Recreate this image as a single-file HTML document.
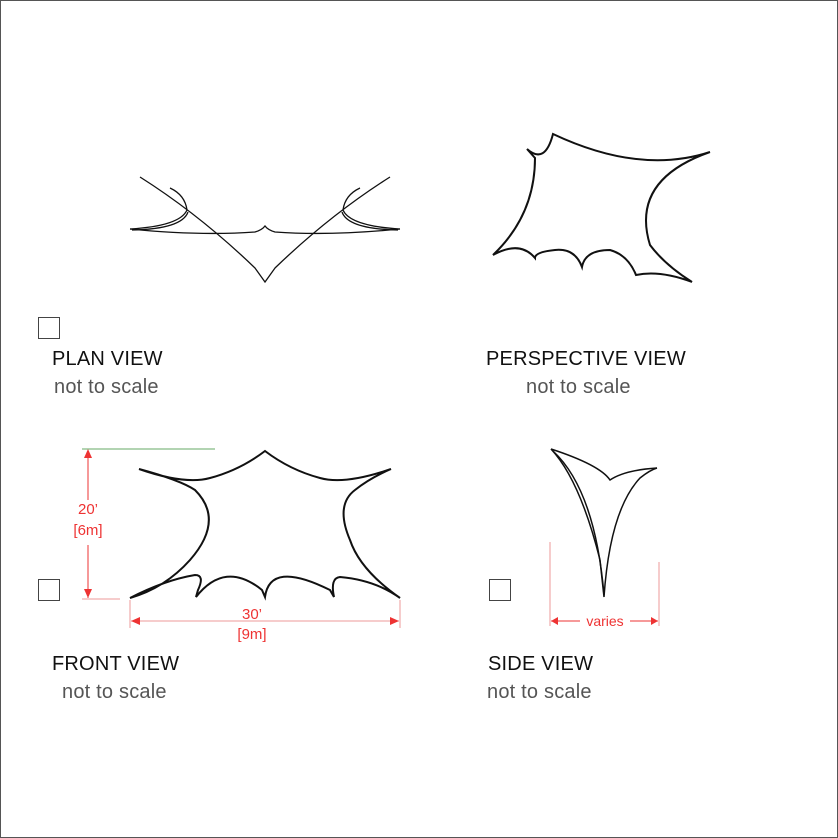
<!DOCTYPE html>
<html><head><style>
body{margin:0;background:#fff}
.f{position:absolute;left:0;top:0;width:836px;height:836px;border:1px solid #555;}
.t{position:absolute;font-family:"Liberation Sans",sans-serif;font-size:20px;color:#111;letter-spacing:0.2px}
.g{color:#555}
.b{position:absolute;width:20px;height:20px;border:1px solid #444}
</style></head><body>
<div class="f"></div>
<svg width="838" height="838" style="position:absolute;left:0;top:0" fill="none" stroke="#111">
<!-- plan -->
<g stroke-width="1.3">
<path d="M140,177 Q200,215 255,268 L265,282 L275,268 Q330,215 390,177"/>
<path d="M130,229 Q200,236 255,232 Q262,230 265,226 Q268,230 275,232 Q330,236 400,229"/>
<path d="M130,229 Q180,226 187,210 Q185,195 170,188"/>
<path d="M400,229 Q350,226 343,210 Q345,195 360,188"/>
<path d="M132,230 Q182,229 188,212"/><path d="M398,230 Q348,229 342,212"/>
</g>
<!-- perspective -->
<g stroke-width="2">
<path d="M527,149 Q545,165 553,134 Q640,175 710,152 Q630,180 650,245 Q665,265 692,282 Q660,270 636,275 Q628,255 610,250 Q585,250 582,267 Q575,248 555,250 Q535,252 535,258 Q520,240 493,255 Q535,215 535,158 Z"/>
</g>
<!-- front -->
<g stroke-width="2">
<path d="M139,469 Q180,480 195,490 Q225,520 190,560 Q165,588 130,598 Q165,580 195,575 Q205,575 198,590 L196,597 Q225,560 262,590 L265,597 Q270,560 330,590 L334,597 Q330,578 340,577 Q375,580 400,598 Q360,570 350,540 Q335,505 355,490 Q370,478 391,469 Q345,485 320,478 Q290,470 265,451 Q240,470 210,478 Q185,485 139,469 Z"/>
</g>
<!-- side -->
<g stroke-width="1.5">
<path d="M551,449 Q600,465 610,480 Q625,470 657,468"/>
<path d="M551,449 Q580,480 600,560 L604,597 Q610,510 640,478 Q650,470 657,468"/>
<path d="M553,451 Q595,490 604,595"/>
</g>
<!-- red dims -->
<g stroke="#e33" stroke-width="1" fill="#e33">
<line x1="88" y1="450" x2="88" y2="500" stroke="#e33"/>
<line x1="88" y1="545" x2="88" y2="598"/>
<line x1="82" y1="449" x2="215" y2="449" stroke="#6a6"/>
<line x1="82" y1="599" x2="120" y2="599" stroke="#e99"/>
<path d="M84,458 L88,449 L92,458Z" stroke="none"/>
<path d="M84,589 L88,598 L92,589Z" stroke="none"/>
<line x1="130" y1="600" x2="130" y2="628" stroke="#e99"/>
<line x1="400" y1="600" x2="400" y2="628" stroke="#e99"/>
<line x1="131" y1="621" x2="399" y2="621" stroke="#e99"/>
<path d="M140,617 L131,621 L140,625Z" stroke="none"/>
<path d="M390,617 L399,621 L390,625Z" stroke="none"/>
<line x1="550" y1="542" x2="550" y2="626" stroke="#e99"/>
<line x1="659" y1="562" x2="659" y2="626" stroke="#e99"/>
<line x1="551" y1="621" x2="580" y2="621"/>
<line x1="630" y1="621" x2="658" y2="621"/>
<path d="M558,617 L551,621 L558,625Z" stroke="none"/>
<path d="M651,617 L658,621 L651,625Z" stroke="none"/>
</g>
<g fill="#e33" stroke="none" font-family="Liberation Sans,sans-serif" font-size="15" text-anchor="middle">
<text x="88" y="514">20’</text><text x="88" y="535">[6m]</text>
<text x="252" y="619">30’</text><text x="252" y="639">[9m]</text>
<text x="605" y="626" font-size="14">varies</text>
</g>
</svg>
<div class="b" style="left:38px;top:317px"></div>
<div class="b" style="left:38px;top:579px"></div>
<div class="b" style="left:489px;top:579px"></div>
<div class="t" style="left:52px;top:348px">PLAN VIEW</div>
<div class="t g" style="left:54px;top:376px">not to scale</div>
<div class="t" style="left:486px;top:348px">PERSPECTIVE VIEW</div>
<div class="t g" style="left:526px;top:376px">not to scale</div>
<div class="t" style="left:52px;top:653px">FRONT VIEW</div>
<div class="t g" style="left:62px;top:681px">not to scale</div>
<div class="t" style="left:488px;top:653px">SIDE VIEW</div>
<div class="t g" style="left:487px;top:681px">not to scale</div>
</body></html>
